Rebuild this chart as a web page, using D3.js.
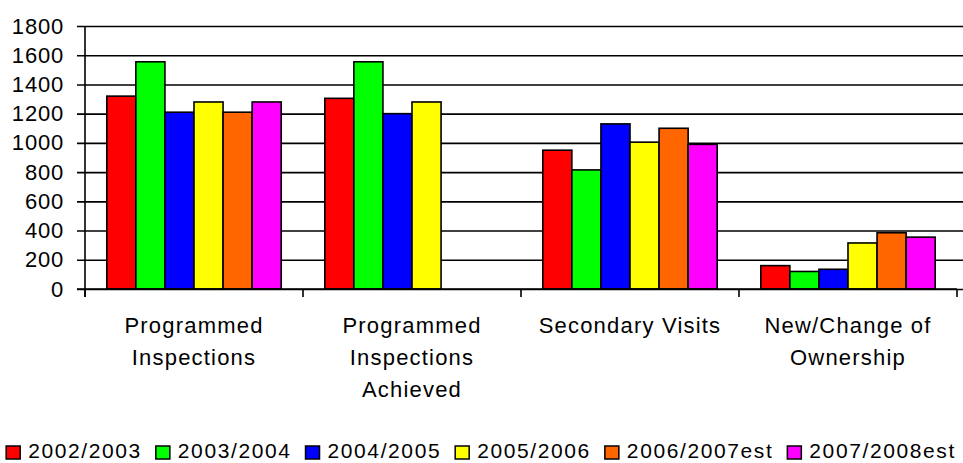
<!DOCTYPE html>
<html>
<head>
<meta charset="utf-8">
<script src="https://cdn.jsdelivr.net/npm/d3@7"></script>
<style>
  body { margin: 0; background: #fff; }
  svg { display: block; }
  svg text { font-family: "Liberation Sans", Arial, sans-serif; fill: #000; }
</style>
</head>
<body>
<div id="chart"></div>
<script>
var categories = [
    ["Programmed", "Inspections"],
    ["Programmed", "Inspections", "Achieved"],
    ["Secondary Visits"],
    ["New/Change of", "Ownership"]
];
var seriesNames = ["2002/2003", "2003/2004", "2004/2005", "2005/2006", "2006/2007est", "2007/2008est"];
var seriesColors = ["#FF0000", "#00FF00", "#0000FF", "#FFFF00", "#FF6600", "#FF00FF"];
// one row per series, one value per category (null = no bar)
var values = [
    [1320, 1305, 950, 160],
    [1555, 1555, 815, 120],
    [1210, 1200, 1130, 135],
    [1280, 1280, 1005, 315],
    [1210, null, 1100, 385],
    [1280, null, 990, 355]
];
var yTicks = [0, 200, 400, 600, 800, 1000, 1200, 1400, 1600, 1800];

var attrs = {
    width: 963,
    height: 463,
    left: 85,
    right: 957,
    top: 26,
    bottom: 289,
    fontSize: 22
};

var svg = d3.select("#chart").append("svg")
    .attr("width", attrs.width)
    .attr("height", attrs.height);

var catIdx = categories.map(function(d, i){ return i; });

var x0 = d3.scaleBand()
    .domain(catIdx)
    .range([attrs.left, attrs.right]);

var x1 = d3.scaleBand()
    .domain(d3.range(seriesNames.length))
    .range([0, x0.bandwidth()])
    .paddingOuter(0.75);

var y = d3.scaleLinear()
    .domain([0, 1800])
    .range([attrs.bottom, attrs.top]);

// gridlines + y ticks
var yAxis = d3.axisLeft(y)
    .tickValues(yTicks)
    .tickSize(attrs.left - attrs.right)
    .tickFormat(d3.format("d"));

var gy = svg.append("g")
    .attr("transform", "translate(" + attrs.right + ",0)")
    .call(yAxis);
gy.select(".domain").remove();
gy.selectAll(".tick line")
    .attr("x1", -(attrs.right - attrs.left) - 8)
    .attr("stroke", "#000")
    .attr("stroke-width", 1.6);
gy.selectAll(".tick text")
    .attr("x", -(attrs.right - attrs.left) - 21)
    .style("font-family", "'Liberation Sans', Arial, sans-serif")
    .style("font-size", attrs.fontSize + "px")
    .style("letter-spacing", "0.8px")
    .attr("fill", "#000");

// bars
var bars = [];
values.forEach(function(row, s){
    row.forEach(function(v, c){
        if (v != null) bars.push({s: s, c: c, v: v});
    });
});

svg.append("g").selectAll("rect")
    .data(bars)
    .enter().append("rect")
    .attr("x", function(d){ return x0(d.c) + x1(d.s); })
    .attr("y", function(d){ return y(d.v); })
    .attr("width", x1.bandwidth())
    .attr("height", function(d){ return y(0) - y(d.v); })
    .attr("fill", function(d){ return seriesColors[d.s]; })
    .attr("stroke", "#000")
    .attr("stroke-width", 1.6);

// axes lines
svg.append("line")
    .attr("x1", attrs.left).attr("x2", attrs.left)
    .attr("y1", attrs.top).attr("y2", attrs.bottom + 8)
    .attr("stroke", "#000").attr("stroke-width", 1.6);
svg.append("line")
    .attr("x1", attrs.left - 8).attr("x2", attrs.right)
    .attr("y1", attrs.bottom).attr("y2", attrs.bottom)
    .attr("stroke", "#000").attr("stroke-width", 1.6);

var catEdges = catIdx.map(function(i){ return x0(i); }).concat([attrs.right]);
svg.append("g").selectAll("line")
    .data(catEdges)
    .enter().append("line")
    .attr("x1", function(d){ return d; })
    .attr("x2", function(d){ return d; })
    .attr("y1", attrs.bottom)
    .attr("y2", attrs.bottom + 8)
    .attr("stroke", "#000").attr("stroke-width", 1.6);

// category labels
var catLabels = svg.append("g").selectAll("text")
    .data(categories)
    .enter().append("text")
    .attr("text-anchor", "middle")
    .style("font-size", attrs.fontSize + "px")
    .style("letter-spacing", "1.2px")
    .attr("transform", function(d, i){
        return "translate(" + (x0(i) + x0.bandwidth() / 2) + ",333)";
    });
catLabels.selectAll("tspan")
    .data(function(d){ return d; })
    .enter().append("tspan")
    .attr("x", 0)
    .attr("y", function(d, i){ return i * 32; })
    .text(function(d){ return d; });

// legend
var legend = svg.append("g");
var items = legend.selectAll("g")
    .data(seriesNames)
    .enter().append("g");
items.append("rect")
    .attr("width", 14)
    .attr("height", 13)
    .attr("y", -12)
    .attr("fill", function(d, i){ return seriesColors[i]; })
    .attr("stroke", "#000")
    .attr("stroke-width", 1.5);
items.append("text")
    .attr("x", 22)
    .style("font-size", "21px")
    .style("letter-spacing", "1.6px")
    .text(function(d){ return d; });

var offset = 0;
var widths = [];
items.each(function(){
    var w = 22 + d3.select(this).select("text").node().getComputedTextLength();
    widths.push(w);
});
var total = d3.sum(widths) + 14 * (widths.length - 1);
offset = 481 - total / 2;
items.attr("transform", function(d, i){
    var xx = offset;
    offset += widths[i] + 14;
    return "translate(" + xx + ",458)";
});
</script>
</body>
</html>
